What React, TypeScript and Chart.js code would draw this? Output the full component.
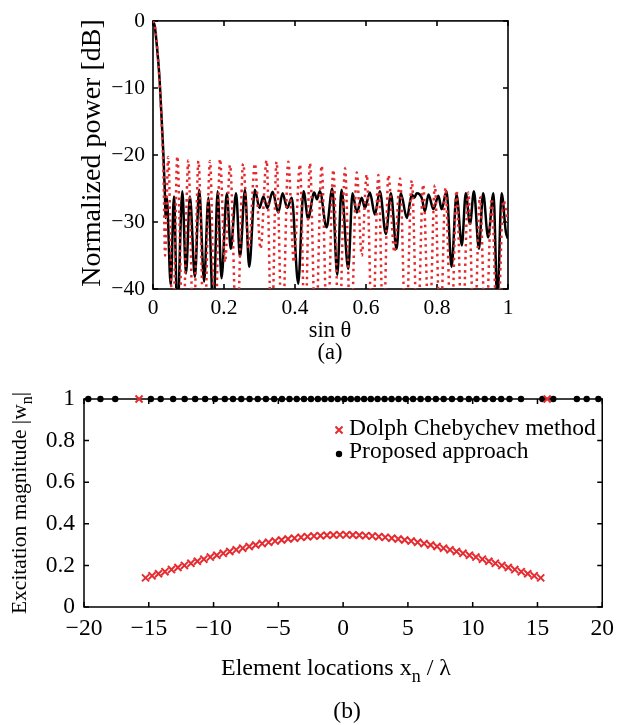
import { useEffect, useRef } from 'react';
import { Chart, registerables } from 'chart.js';

Chart.register(...registerables);

const SERIF = '"Liberation Serif", "Times New Roman", Times, serif';
const RED = '#e52b2f';

// ---------------- (a) normalized power patterns ----------------
const sinThetaProposed = [
  0, 0.005, 0.0103, 0.018, 0.0244, 0.029, 0.033, 0.036, 0.0385, 0.05, 0.059, 0.0685, 0.0826, 0.093,
  0.104, 0.118, 0.13, 0.144, 0.156, 0.17, 0.182, 0.193, 0.208, 0.219, 0.234, 0.245, 0.259, 0.271,
  0.287, 0.3, 0.311, 0.322, 0.337, 0.353, 0.365, 0.378, 0.391, 0.409, 0.424, 0.437, 0.454, 0.462,
  0.47, 0.489, 0.505, 0.519, 0.531, 0.55, 0.562, 0.574, 0.588, 0.597, 0.611, 0.625, 0.639, 0.656,
  0.67, 0.686, 0.698, 0.715, 0.729, 0.736, 0.743, 0.757, 0.766, 0.776, 0.79, 0.804, 0.813, 0.827,
  0.841, 0.855, 0.87, 0.881, 0.893, 0.904, 0.918, 0.93, 0.944, 0.959, 0.97, 0.982, 0.994, 1.0,
];
const powerProposedDb = [
  0, -0.8, -3.4, -8.3, -14.7, -19.6, -25, -29.4, -26.2, -39.4, -26.2, -44, -25.4, -37.7,
  -26.2, -38.2, -25.2, -38.9, -26.4, -44, -25.4, -38.4, -25.7, -34, -25.7, -35.2, -25.2, -36.7,
  -25.2, -27.9, -26.2, -27.9, -25.5, -28.6, -25.7, -27.9, -26.4, -39.2, -25.4, -29.5, -25.6, -26.6,
  -25.4, -30.8, -25.0, -37.9, -25.2, -37.0, -25.7, -28.6, -26.4, -27.9, -25.6, -28.9, -25.4, -31.8,
  -25.7, -34.0, -25.7, -29.4, -25.9, -26.4, -25.7, -26.4, -28.4, -25.9, -28.1, -26.1, -28.1, -25.4,
  -36.7, -25.9, -33.5, -25.7, -30.3, -25.4, -34.0, -25.7, -32.3, -25.7, -42, -25.7, -31.5, -32.5,
];
const sinThetaDolph = [
  0, 0.005, 0.01, 0.015, 0.02, 0.025, 0.03, 0.034, 0.043, 0.056, 0.0685, 0.084, 0.0995, 0.114,
  0.128, 0.144, 0.1606, 0.175, 0.1887, 0.203, 0.217, 0.236, 0.254, 0.27, 0.287, 0.303, 0.32, 0.334,
  0.348, 0.364, 0.381, 0.397, 0.414, 0.428, 0.442, 0.458, 0.475, 0.491, 0.508, 0.524, 0.541, 0.557,
  0.574, 0.588, 0.602, 0.618, 0.635, 0.649, 0.663, 0.68, 0.696, 0.712, 0.729, 0.745, 0.761, 0.778,
  0.794, 0.809, 0.824, 0.84, 0.855, 0.871, 0.888, 0.905, 0.921, 0.937, 0.954, 0.97, 0.987, 1.0,
];
const powerDolphDb = [
  0, -0.7, -2.8, -6.2, -10.5, -16, -24, -35, -20.3, -48, -20.2, -48, -20.8, -48,
  -20.9, -48, -20.9, -48, -20.6, -36, -21.5, -48, -21.3, -34, -21.3, -34, -20.8, -48,
  -21, -48, -21, -36, -21.4, -48, -21.2, -48, -21.6, -48, -22.2, -48, -22, -48,
  -22.6, -35, -22.9, -48, -23, -48, -23, -34.5, -23.5, -48, -23.8, -48, -24.4, -48,
  -24.5, -48, -24.9, -48, -25.3, -48, -25.6, -48, -26.2, -48, -26.5, -48, -26.8, -30,
];
const xTicksA = [0, 0.2, 0.4, 0.6, 0.8, 1];
const xTickLabelsA = ['0', '0.2', '0.4', '0.6', '0.8', '1'];
const yTicksA = [0, -10, -20, -30, -40];
const yTickLabelsA = ['0', '\u221210', '\u221220', '\u221230', '\u221240'];
const xTitleA = 'sin \u03b8';
const yTitleA = 'Normalized power [dB]';
const captionA = '(a)';

// ---------------- (b) excitation magnitudes ----------------
const dolphLocations = [
  -15.75, -15.25, -14.75, -14.25, -13.75, -13.25, -12.75, -12.25, -11.75, -11.25, -10.75,
  -10.25, -9.75, -9.25, -8.75, -8.25, -7.75, -7.25, -6.75, -6.25, -5.75, -5.25, -4.75,
  -4.25, -3.75, -3.25, -2.75, -2.25, -1.75, -1.25, -0.75, -0.25,
  0.25, 0.75, 1.25, 1.75, 2.25, 2.75, 3.25, 3.75, 4.25, 4.75, 5.25, 5.75, 6.25, 6.75,
  7.25, 7.75, 8.25, 8.75, 9.25, 9.75, 10.25, 10.75, 11.25, 11.75, 12.25, 12.75, 13.25,
  13.75, 14.25, 14.75, 15.25, 15.75,
];
const dolphMagnitudes = [
  1, 0.14, 0.15, 0.16, 0.17, 0.18, 0.19, 0.2, 0.21, 0.22, 0.23,
  0.24, 0.249, 0.258, 0.267, 0.275, 0.283, 0.291, 0.298, 0.305, 0.311, 0.317, 0.322,
  0.327, 0.331, 0.335, 0.338, 0.341, 0.343, 0.345, 0.346, 0.347,
  0.347, 0.346, 0.345, 0.343, 0.341, 0.338, 0.335, 0.331, 0.327, 0.322, 0.317, 0.311, 0.305, 0.298,
  0.291, 0.283, 0.275, 0.267, 0.258, 0.249, 0.24, 0.23, 0.22, 0.21, 0.2, 0.19, 0.18,
  0.17, 0.16, 0.15, 0.14, 1,
];
const proposedLocations = [
  -19.67, -18.73, -17.59, -14.84, -14.08, -13.12, -12.23, -11.42, -10.65, -9.89, -9.13, -8.5,
  -7.86, -7.22, -6.59, -5.96, -5.32, -4.72, -4.14, -3.58, -3.02, -2.48, -1.95, -1.43, -0.92,
  -0.42, 0.1, 0.6, 1.1, 1.62, 2.14, 2.66, 3.2, 3.74, 4.28, 4.84, 5.4, 5.98, 6.56, 7.16, 7.76,
  8.4, 9.05, 9.7, 10.3, 10.93, 11.57, 12.2, 12.84, 13.73, 15.38, 16.22, 18.04, 18.8, 19.7,
];
const proposedMagnitudes = [
  1, 1, 1, 1, 1, 1, 1, 1, 1, 1, 1, 1,
  1, 1, 1, 1, 1, 1, 1, 1, 1, 1, 1, 1, 1,
  1, 1, 1, 1, 1, 1, 1, 1, 1, 1, 1, 1, 1, 1, 1, 1,
  1, 1, 1, 1, 1, 1, 1, 1, 1, 1, 1, 1, 1, 1,
];
const xTicksB = [-20, -15, -10, -5, 0, 5, 10, 15, 20];
const xTickLabelsB = ['\u221220', '\u221215', '\u221210', '\u22125', '0', '5', '10', '15', '20'];
const yTicksB = [0, 0.2, 0.4, 0.6, 0.8, 1];
const yTickLabelsB = ['0', '0.2', '0.4', '0.6', '0.8', '1'];
const legendLabelsB = ['Dolph Chebychev method', 'Proposed approach'];
const captionB = '(b)';

// ---------------- helpers ----------------
type Seg = { t: string; sub?: boolean };
type TextItem = { segs: Seg[]; x: number; y: number; size: number; rot?: number };

const pts = (xs: number[], ys: number[]) => xs.map((x, i) => ({ x, y: ys[i] }));

function axis(min: number, max: number, ticks: number[], labels: string[], fontSize: number, padding: number, size: number, horizontal: boolean) {
  return {
    type: 'linear' as const,
    min,
    max,
    afterBuildTicks: (s: any) => {
      s.ticks = ticks.map((v) => ({ value: v }));
    },
    afterFit: (s: any) => {
      if (horizontal) s.height = size;
      else s.width = size;
    },
    ticks: {
      autoSkip: false,
      maxRotation: 0,
      padding,
      color: '#000',
      font: { family: SERIF, size: fontSize },
      callback: (_v: any, i: number) => labels[i],
    },
    grid: { display: false, drawTicks: false },
    border: { display: false },
  };
}

function framePlugin(xTicks: number[], yTicks: number[], len: number, lw: number) {
  return {
    id: 'frame',
    beforeDatasetsDraw(chart: any) {
      const { ctx, chartArea: a, scales } = chart;
      ctx.save();
      ctx.strokeStyle = '#000';
      ctx.lineWidth = lw;
      ctx.beginPath();
      xTicks.forEach((v) => {
        const p = scales.x.getPixelForValue(v);
        ctx.moveTo(p, a.bottom);
        ctx.lineTo(p, a.bottom - len);
        ctx.moveTo(p, a.top);
        ctx.lineTo(p, a.top + len);
      });
      yTicks.forEach((v) => {
        const p = scales.y.getPixelForValue(v);
        ctx.moveTo(a.left, p);
        ctx.lineTo(a.left + len, p);
        ctx.moveTo(a.right, p);
        ctx.lineTo(a.right - len, p);
      });
      ctx.stroke();
      ctx.strokeRect(a.left, a.top, a.right - a.left, a.bottom - a.top);
      ctx.restore();
    },
  };
}

function drawRich(ctx: CanvasRenderingContext2D, item: TextItem) {
  ctx.save();
  ctx.translate(item.x, item.y);
  if (item.rot) ctx.rotate(item.rot);
  ctx.fillStyle = '#000';
  ctx.textBaseline = 'alphabetic';
  ctx.textAlign = 'left';
  const fontFor = (s: Seg) => `${s.sub ? item.size * 0.75 : item.size}px ${SERIF}`;
  const widths = item.segs.map((s) => {
    ctx.font = fontFor(s);
    return ctx.measureText(s.t).width;
  });
  const total = widths.reduce((a, b) => a + b, 0);
  let cx = -total / 2;
  item.segs.forEach((s, i) => {
    ctx.font = fontFor(s);
    ctx.fillText(s.t, cx, s.sub ? item.size * 0.3 : 0);
    cx += widths[i];
  });
  ctx.restore();
}

function textPlugin(items: TextItem[]) {
  return {
    id: 'texts',
    afterDraw(chart: any) {
      items.forEach((it) => drawRich(chart.ctx, it));
    },
  };
}

function legendPlugin() {
  return {
    id: 'legendB',
    afterDraw(chart: any) {
      const ctx = chart.ctx as CanvasRenderingContext2D;
      const rows = [
        { y: 60, base: 65, style: 'crossRot', color: RED, r: 5 },
        { y: 84, base: 88, style: 'circle', color: '#000', r: 3.2 },
      ];
      rows.forEach((row, i) => {
        ctx.save();
        ctx.strokeStyle = row.color;
        ctx.fillStyle = row.color;
        ctx.lineWidth = 2;
        if (row.style === 'circle') {
          ctx.beginPath();
          ctx.arc(339, row.y, row.r, 0, Math.PI * 2);
          ctx.fill();
        } else {
          const d = row.r * Math.SQRT1_2;
          ctx.beginPath();
          ctx.moveTo(339 - d, row.y - d);
          ctx.lineTo(339 + d, row.y + d);
          ctx.moveTo(339 - d, row.y + d);
          ctx.lineTo(339 + d, row.y - d);
          ctx.stroke();
        }
        ctx.fillStyle = '#000';
        ctx.font = `23.5px ${SERIF}`;
        ctx.textBaseline = 'alphabetic';
        ctx.textAlign = 'left';
        ctx.fillText(legendLabelsB[i], 349, row.base);
        ctx.restore();
      });
    },
  };
}

export default function App() {
  const topRef = useRef<HTMLCanvasElement>(null);
  const botRef = useRef<HTMLCanvasElement>(null);

  useEffect(() => {
    const top = new Chart(topRef.current!, {
      type: 'line',
      data: {
        datasets: [
          {
            label: legendLabelsB[0],
            data: pts(sinThetaDolph, powerDolphDb),
            borderColor: RED,
            borderWidth: 2.5,
            borderDash: [2.5, 4],
            pointRadius: 0,
            cubicInterpolationMode: 'monotone',
            order: 0,
          },
          {
            label: legendLabelsB[1],
            data: pts(sinThetaProposed, powerProposedDb),
            borderColor: '#000',
            borderWidth: 2.5,
            pointRadius: 0,
            cubicInterpolationMode: 'monotone',
            order: 1,
          },
        ],
      },
      options: {
        animation: false,
        responsive: false,
        layout: { padding: { left: 0, top: 17, right: 114, bottom: 0 } },
        plugins: { legend: { display: false }, tooltip: { enabled: false } },
        scales: {
          x: axis(0, 1, xTicksA, xTickLabelsA, 21.5, 6, 81, true),
          y: axis(-40, 0, yTicksA, yTickLabelsA, 21.5, 8, 153, false),
        },
      },
      plugins: [
        framePlugin(xTicksA, yTicksA, 5, 1.6),
        textPlugin([
          { segs: [{ t: yTitleA }], x: 100, y: 153, size: 28, rot: -Math.PI / 2 },
          { segs: [{ t: xTitleA }], x: 330, y: 337, size: 22.5 },
          { segs: [{ t: captionA }], x: 330, y: 359, size: 22.5 },
        ]),
      ],
    } as any);

    const bot = new Chart(botRef.current!, {
      type: 'scatter',
      data: {
        datasets: [
          {
            label: legendLabelsB[0],
            data: pts(dolphLocations, dolphMagnitudes),
            pointStyle: 'crossRot',
            pointRadius: 5,
            borderColor: RED,
            borderWidth: 2,
            backgroundColor: RED,
            clip: false,
            order: 0,
          },
          {
            label: legendLabelsB[1],
            data: pts(proposedLocations, proposedMagnitudes),
            pointStyle: 'circle',
            pointRadius: 3.2,
            borderWidth: 0,
            backgroundColor: '#000',
            clip: false,
            order: 1,
          },
        ],
      },
      options: {
        animation: false,
        responsive: false,
        layout: { padding: { left: 0, top: 29, right: 13, bottom: 0 } },
        plugins: { legend: { display: false }, tooltip: { enabled: false } },
        scales: {
          x: axis(-20, 20, xTicksB, xTickLabelsB, 23.5, 8, 118, true),
          y: axis(0, 1, yTicksB, yTickLabelsB, 23.5, 9, 84, false),
        },
      },
      plugins: [
        framePlugin(xTicksB, yTicksB, 5, 1.5),
        legendPlugin(),
        textPlugin([
          {
            segs: [{ t: 'Excitation magnitude |w' }, { t: 'n', sub: true }, { t: '|' }],
            x: 26,
            y: 133,
            size: 21.5,
            rot: -Math.PI / 2,
          },
          {
            segs: [{ t: 'Element locations x' }, { t: 'n', sub: true }, { t: ' / \u03bb' }],
            x: 336,
            y: 305,
            size: 24,
          },
          { segs: [{ t: captionB }], x: 347, y: 348, size: 23.5 },
        ]),
      ],
    } as any);

    return () => {
      top.destroy();
      bot.destroy();
    };
  }, []);

  return (
    <div style={{ position: 'absolute', left: 0, top: 0, width: 622, height: 725, background: '#fff' }}>
      <canvas ref={topRef} width={622} height={370} style={{ position: 'absolute', left: 0, top: 0, width: 622, height: 370 }} />
      <canvas ref={botRef} width={622} height={355} style={{ position: 'absolute', left: 0, top: 370, width: 622, height: 355 }} />
    </div>
  );
}
